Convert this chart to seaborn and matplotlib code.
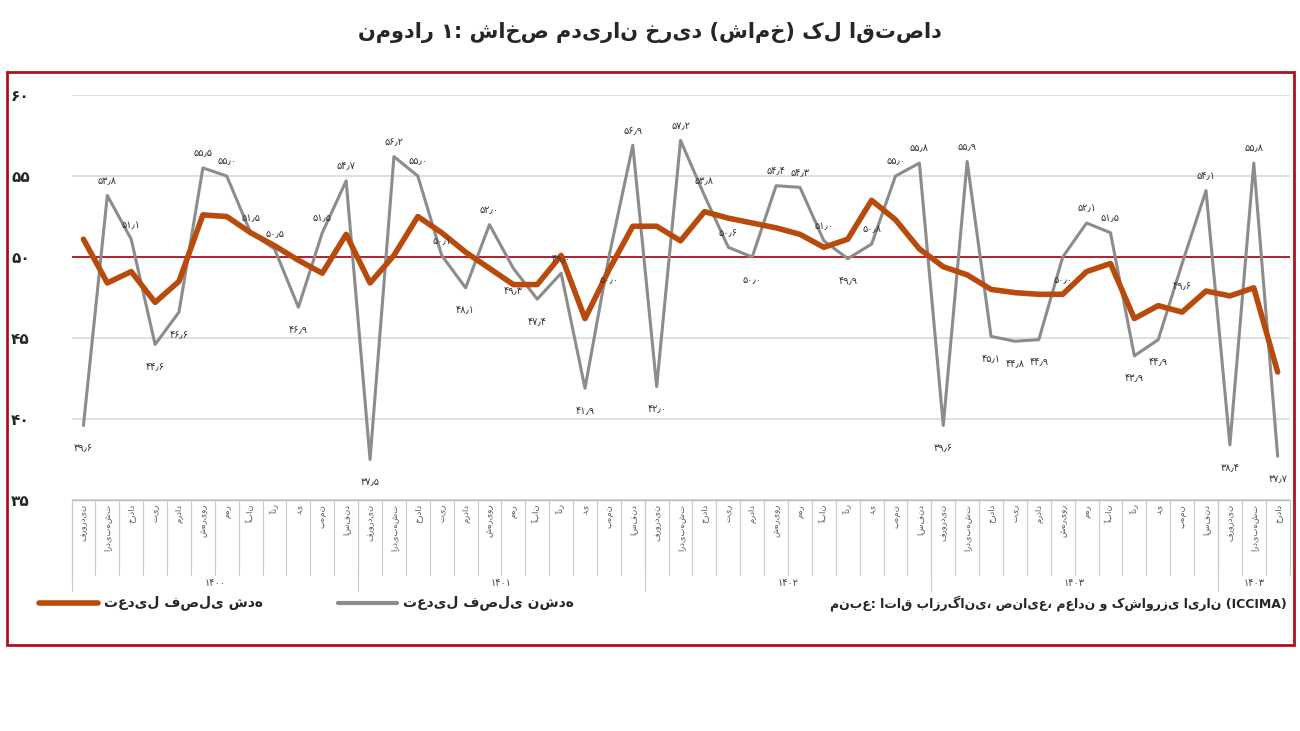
import matplotlib
matplotlib.use("Agg")
import matplotlib.pyplot as plt
import matplotlib.transforms as mtransforms
from matplotlib.patches import Rectangle
import seaborn as sns
import pandas as pd
import numpy as np

months = ["فروردین", "اردیبهشت", "خرداد", "تیر", "مرداد", "شهریور",
          "مهر", "آبان", "آذر", "دی", "بهمن", "اسفند"]
years = ["۱۴۰۰", "۱۴۰۱", "۱۴۰۲", "۱۴۰۳", "۱۴۰۳"]
year_lengths = [12, 12, 12, 12, 3]

unadjusted = [39.6, 53.8, 51.1, 44.6, 46.6, 55.5, 55.0, 51.5, 50.5, 46.9, 51.5, 54.7,
              37.5, 56.2, 55.0, 50.1, 48.1, 52.0, 49.3, 47.4, 49.0, 41.9, 50.0, 56.9,
              42.0, 57.2, 53.8, 50.6, 50.0, 54.4, 54.3, 51.0, 49.9, 50.8, 55.0, 55.8,
              39.6, 55.9, 45.1, 44.8, 44.9, 50.0, 52.1, 51.5, 43.9, 44.9, 49.6, 54.1,
              38.4, 55.8, 37.7]
adjusted = [51.1, 48.4, 49.1, 47.2, 48.5, 52.6, 52.5, 51.5, 50.7, 49.8, 49.0, 51.4,
            48.4, 50.1, 52.5, 51.5, 50.3, 49.3, 48.3, 48.3, 50.1, 46.2, 49.2, 51.9,
            51.9, 51.0, 52.8, 52.4, 52.1, 51.8, 51.4, 50.6, 51.1, 53.5, 52.3, 50.5,
            49.4, 48.9, 48.0, 47.8, 47.7, 47.7, 49.1, 49.6, 46.2, 47.0, 46.6, 47.9,
            47.6, 48.1, 42.9]
yticks = [35, 40, 45, 50, 55, 60]
ytick_labels = ["۳۵", "۴۰", "۴۵", "۵۰", "۵۵", "۶۰"]

title = "نمودار ۱: شاخص مدیران خرید (شامخ) کل اقتصاد"
leg_adj = "تعدیل فصلی شده"
leg_unadj = "تعدیل فصلی نشده"
source = "منبع: اتاق بازرگانی، صنایع، معادن و کشاورزی ایران (ICCIMA)"

def fa(v):
    s = f"{v:.1f}"
    return s.translate(str.maketrans("0123456789.", "۰۱۲۳۴۵۶۷۸۹٫"))

sns.set_theme(style="white")
plt.rcParams["font.family"] = ["DejaVu Sans"]

n = len(unadjusted)
month_labels = [months[i % 12] for i in range(n)]
df = pd.DataFrame({"x": np.arange(n), "unadj": unadjusted, "adj": adjusted})

fig = plt.figure(figsize=(13, 7.31), dpi=100)
ax = fig.add_axes([0.055, 0.316, 0.937, 0.554])

for y in yticks:
    ax.axhline(y, color="#d9d9d9", lw=1.2, zorder=0)
ax.axhline(50, color="#b01020", lw=1.3, zorder=1)

sns.lineplot(data=df, x="x", y="unadj", ax=ax, color="#8c8c8c", lw=2.2, zorder=2)
sns.lineplot(data=df, x="x", y="adj", ax=ax, color="#b84a0c", lw=4, zorder=3)

for i, v in enumerate(unadjusted):
    prev = unadjusted[i - 1] if i > 0 else v - 1
    nxt = unadjusted[i + 1] if i < n - 1 else v - 1
    peak = v >= max(prev, nxt) or v > 50
    off = 0.9 if peak else -1.4
    ax.text(i, v + off, fa(v), ha="center", va="center", fontsize=7, color="#333333")

ax.set_xlim(-0.5, n - 0.5)
ax.set_ylim(35, 60)
ax.set_yticks(yticks)
ax.set_yticklabels(ytick_labels, fontsize=11, fontweight="bold")
ax.set_xticks([])
ax.set_xlabel("")
ax.set_ylabel("")
ax.tick_params(axis="y", length=0, pad=30)
for s in ax.spines.values():
    s.set_visible(False)

trans = mtransforms.blended_transform_factory(ax.transData, ax.transAxes)
ax.plot([-0.5, n - 0.5], [0, 0], transform=trans, color="#bbbbbb", lw=1, clip_on=False)
for i in range(n + 1):
    ax.plot([i - 0.5, i - 0.5], [0, -0.185], transform=trans, color="#c8c8c8", lw=0.8, clip_on=False)
for i, m in enumerate(month_labels):
    ax.text(i, -0.01, m, transform=trans, rotation=90, ha="center", va="top", fontsize=6, color="#555555")
start = 0
for yl, ln in zip(years, year_lengths):
    ax.plot([start - 0.5, start - 0.5], [0, -0.225], transform=trans, color="#c8c8c8", lw=0.8, clip_on=False)
    ax.text(start + ln / 2 - 0.5, -0.205, yl, transform=trans, ha="center", va="center", fontsize=7, color="#444444")
    start += ln

fig.text(0.5, 0.955, title, ha="center", va="center", fontsize=15, fontweight="bold")
fig.patches.append(Rectangle((0.005, 0.118), 0.99, 0.784, transform=fig.transFigure,
                             fill=False, edgecolor="#b01020", lw=2))
fig.lines.append(plt.Line2D([0.03, 0.075], [0.175, 0.175], transform=fig.transFigure, color="#b84a0c", lw=4))
fig.text(0.08, 0.175, leg_adj, ha="left", va="center", fontsize=10, fontweight="bold")
fig.lines.append(plt.Line2D([0.26, 0.305], [0.175, 0.175], transform=fig.transFigure, color="#8c8c8c", lw=3))
fig.text(0.31, 0.175, leg_unadj, ha="left", va="center", fontsize=10, fontweight="bold")
fig.text(0.99, 0.175, source, ha="right", va="center", fontsize=9, fontweight="bold")

fig.savefig("out.png", dpi=100, facecolor="white")
